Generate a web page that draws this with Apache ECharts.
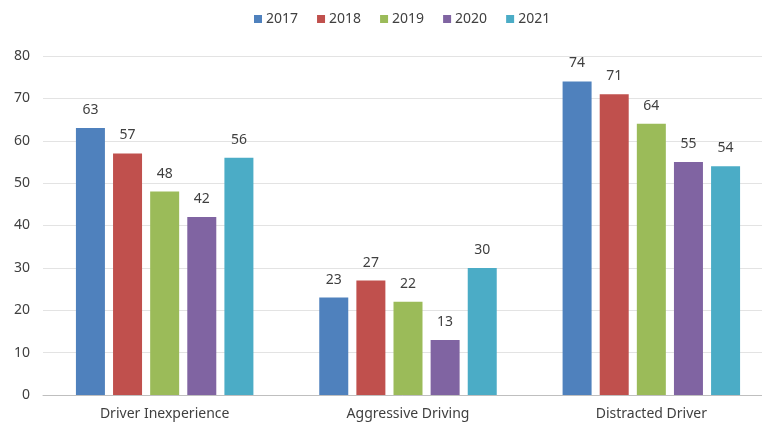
<!DOCTYPE html>
<html>
<head>
<meta charset="utf-8">
<script src="https://cdn.jsdelivr.net/npm/echarts@6/dist/echarts.min.js"></script>
<style>
  html, body { margin: 0; padding: 0; background: #fff; }
  #chart { width: 762px; height: 426px; }
</style>
</head>
<body>
<div id="chart"></div>
<script>
// categories and yearly values
const categories = ['Driver Inexperience', 'Aggressive Driving', 'Distracted Driver'];
const years = ['2017', '2018', '2019', '2020', '2021'];
const v2017 = [63, 23, 74];
const v2018 = [57, 27, 71];
const v2019 = [48, 22, 64];
const v2020 = [42, 13, 55];
const v2021 = [56, 30, 54];
const yTicks = [0, 10, 20, 30, 40, 50, 60, 70, 80];

const colors = ['#4f81bd', '#c0504d', '#9bbb59', '#8064a2', '#4bacc6'];
const font = 'Noto Sans';

const chart = echarts.init(document.getElementById('chart'));

const seriesData = [v2017, v2018, v2019, v2020, v2021];

chart.setOption({
  animation: false,
  color: colors,
  textStyle: { fontFamily: font },
  legend: {
    data: years,
    top: 7,
    left: 249,
    itemWidth: 8,
    itemHeight: 8,
    itemGap: 19,
    icon: 'rect',
    textStyle: { fontSize: 14, color: '#404040', fontFamily: font, padding: [0, 0, 0, -1] }
  },
  // plot area runs past the right edge in the reference
  grid: { left: 43, right: -11, top: 56, bottom: 31, outerBoundsMode: 'none' },
  xAxis: {
    type: 'category',
    data: categories,
    axisTick: { show: false },
    axisLine: { lineStyle: { color: '#bfbfbf' } },
    axisLabel: { fontSize: 14, color: '#404040', margin: 12 }
  },
  yAxis: {
    type: 'value',
    min: yTicks[0],
    max: yTicks[yTicks.length - 1],
    interval: 10,
    axisLine: { show: false },
    axisTick: { show: false },
    splitLine: { lineStyle: { color: '#e3e3e3' } },
    axisLabel: { fontSize: 14, color: '#404040', margin: 13 }
  },
  series: years.map((y, i) => ({
    name: y,
    type: 'bar',
    data: seriesData[i],
    barWidth: 29,
    barGap: '28%',
    label: {
      show: true,
      position: 'top',
      distance: 11,
      fontSize: 14,
      color: '#404040'
    }
  }))
});
</script>
</body>
</html>
